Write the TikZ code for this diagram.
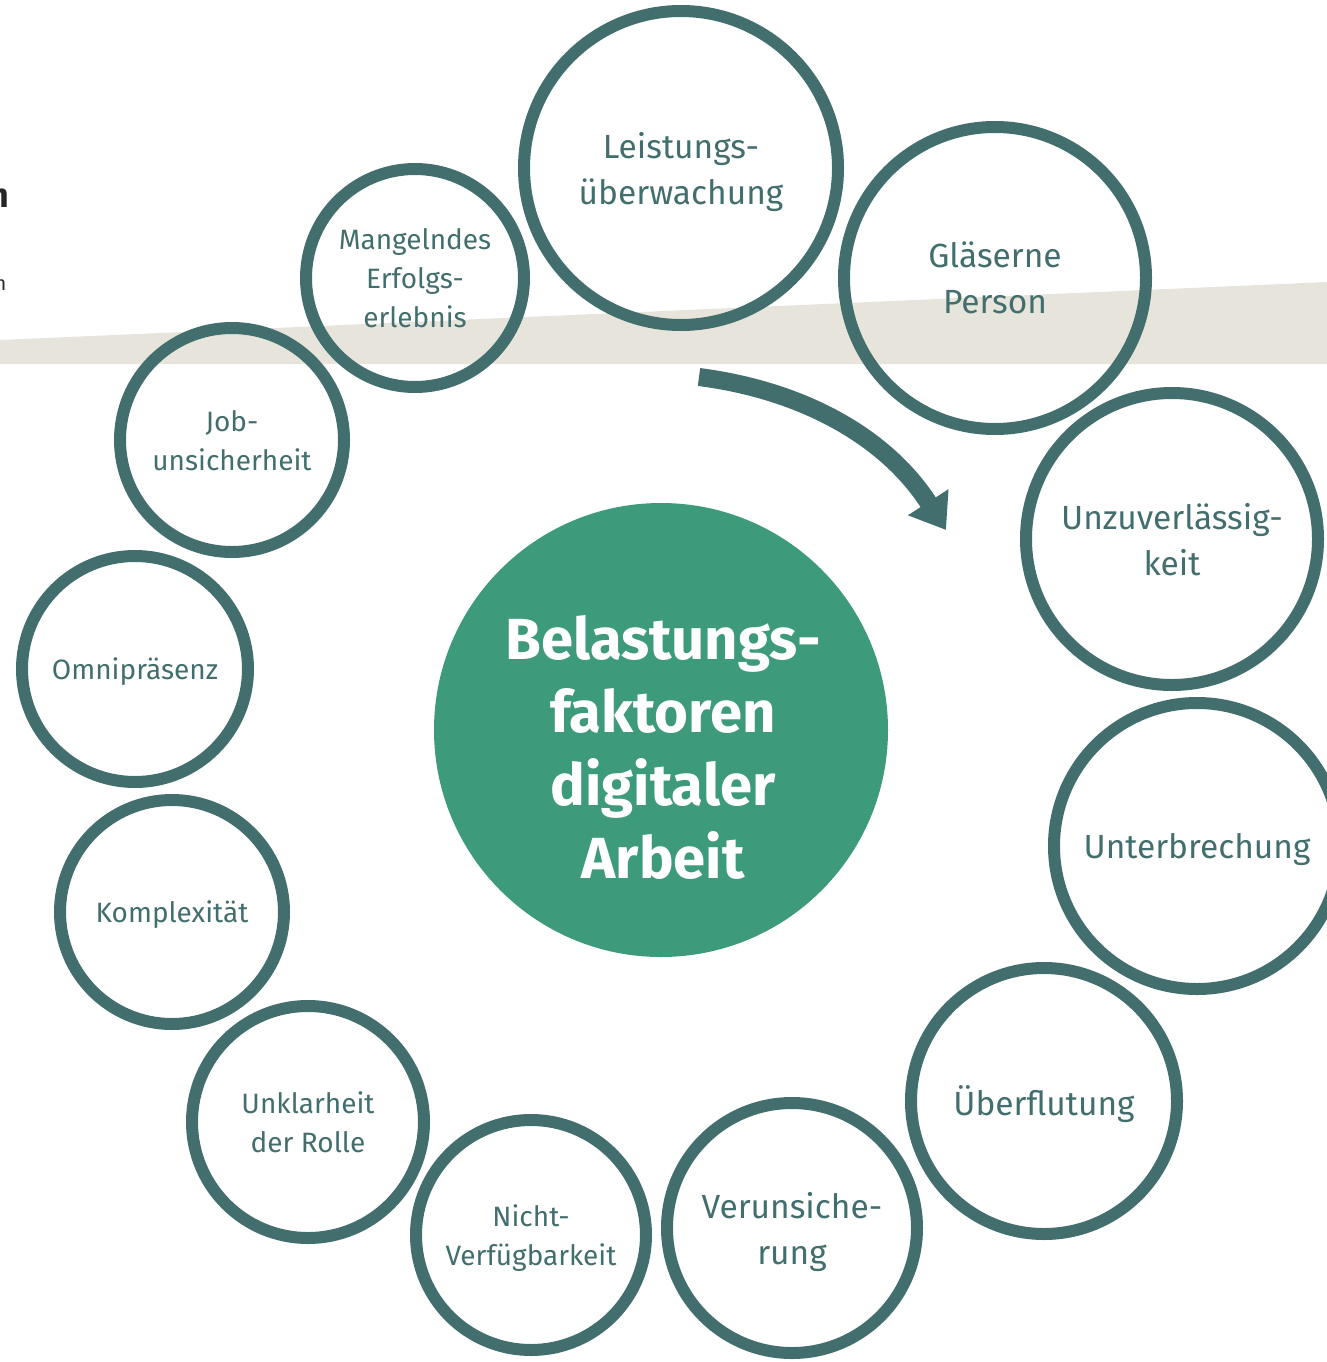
\documentclass[tikz,border=0pt]{standalone}
\usepackage{fontspec}
\setmainfont{Fira Sans}
\usepackage{tikz}
\usetikzlibrary{arrows.meta}
\definecolor{ring}{HTML}{426E6D}
\definecolor{core}{HTML}{3D9A7A}
\definecolor{band}{HTML}{E7E5DB}
\begin{document}
\begin{tikzpicture}[x=1pt, y=-1pt,
    factor/.style={circle, draw=ring, line width=12pt, inner sep=0pt, align=center,
      text depth=0pt, text=ring, font=\fontsize{33.5}{46}\selectfont},
    small/.style={factor, font=\fontsize{28}{39}\selectfont},
    centre/.style={circle, fill=core, inner sep=0pt, minimum size=454pt},
    centretext/.style={align=center, text=white, font=\bfseries\fontsize{58}{73}\selectfont}]
            \useasboundingbox (0,0) rectangle (1327,1362);
            \fill[band] (0,340) -- (1327,282) -- (1327,364) -- (0,364) -- cycle;

            \node (ttl) [anchor=base east, font=\bfseries\fontsize{34}{40}\selectfont, text=black!85] at (13,207) {n};
            \node (sub) [anchor=base east, font=\fontsize{20}{24}\selectfont, text=black!85] at (10,290) {n};

            \node (all) [centre] at (661,730) {};
            \node (alltx) [centretext] at (663,747) {Belastungs-\\faktoren\\digitaler\\Arbeit};

            \node (lu) [factor, minimum size=314pt] at (681,168) {Leistungs-\\überwachung};
            \node (gp) [factor, minimum size=302pt] at (995,278) {Gläserne\\Person};
            \node (uz) [factor, minimum size=292pt] at (1172,539) {Unzuverlässig-\\keit};
            \node (ub) [factor, minimum size=286pt] at (1197,846) {Unterbrechung};
            \node (uf) [factor, minimum size=266pt] at (1044,1101) {Überflutung};
            \node (vu) [factor, minimum size=250pt] at (792,1228) {Verunsiche-\\rung};
            \node (nv) [small, minimum size=230pt] at (531,1235) {Nicht-\\Verfügbarkeit};
            \node (ur) [small, minimum size=232pt] at (308,1122) {Unklarheit\\der Rolle};
            \node (ko) [small, minimum size=224pt] at (172,912) {Komplexität};
            \node (om) [small, minimum size=226pt] at (135,669) {Omnipräsenz};
            \node (ju) [small, minimum size=224pt] at (232,440) {Job-\\unsicherheit};
            \node (me) [small, minimum size=218pt] at (415,278) {Mangelndes\\Erfolgs-\\erlebnis};

            \coordinate (from) at (699,377);
            \coordinate (to) at (946,530);
            \draw [ring, line width=18pt, -{Triangle[width=46pt, length=33pt]}]
              (from) .. controls (800,390) and (885,435) .. (to);
        \end{tikzpicture}
\end{document}
